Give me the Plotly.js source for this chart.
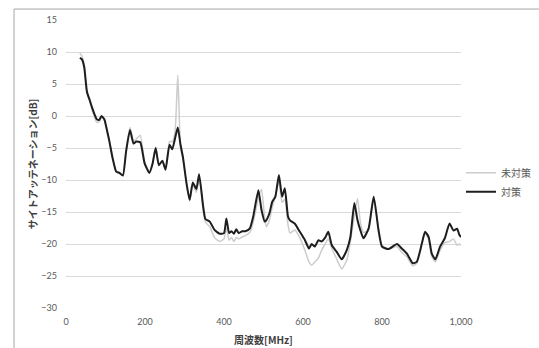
<!DOCTYPE html>
<html>
<head>
<meta charset="utf-8">
<script src="https://cdn.plot.ly/plotly-3.0.1.min.js"></script>
<style>
html,body{margin:0;padding:0;background:#fff;}
#chart{width:539px;height:348px;}
</style>
</head>
<body>
<div id="chart"></div>
<script>
// Frequency [MHz]
const freq = [35,40,46,53,60,65,72,78,84,90,97,104,110,118,127,135,144,152,162,171,178,188,199,211,219,227,235,244,252,262,269,276,283,290,296,305,313,321,330,337,347,353,364,376,389,400,406,413,419,425,431,437,446,454,465,474,487,495,503,507,515,522,530,539,547,554,562,567,579,592,605,615,622,630,639,647,656,664,673,685,698,711,720,730,738,745,753,766,779,791,800,816,838,850,863,878,888,901,909,918,926,935,947,959,971,981,990,996,1000];
// 対策 (with countermeasure)
const taisaku = [9.1,8.9,7.7,3.8,2.5,1.5,0.3,-0.5,-0.6,0.0,-0.5,-2.3,-4.0,-6.6,-8.7,-8.9,-9.3,-5.6,-2.2,-4.3,-4.0,-4.1,-7.4,-8.9,-7.5,-5.0,-7.7,-7.0,-8.4,-4.5,-5.2,-3.5,-1.8,-4.5,-6.4,-10.5,-13.1,-10.4,-11.4,-9.1,-14.0,-16.1,-16.5,-17.8,-18.4,-18.3,-16.0,-18.3,-18.0,-18.4,-17.7,-18.3,-18.0,-18.0,-17.6,-15.7,-11.6,-14.7,-16.5,-16.3,-15.2,-13.4,-12.6,-9.2,-12.6,-11.3,-15.7,-16.3,-16.8,-18.1,-19.4,-20.7,-20.0,-20.4,-19.4,-19.6,-19.0,-18.1,-20.2,-21.2,-22.4,-20.9,-18.9,-13.6,-16.3,-17.8,-19.1,-17.6,-12.6,-17.8,-20.4,-20.8,-20.0,-20.7,-21.5,-23.0,-22.8,-19.9,-18.1,-18.9,-21.5,-22.4,-20.4,-19.1,-16.8,-17.9,-17.6,-18.6,-18.9];
// 未対策 (without countermeasure)
const mitaisaku = [9.8,9.4,8.0,3.5,2.3,1.2,-0.2,-1.0,-0.9,-0.2,-0.6,-2.3,-4.0,-6.4,-8.6,-8.8,-9.2,-5.3,-1.8,-3.9,-3.6,-3.0,-7.2,-8.7,-7.3,-4.9,-7.5,-7.0,-8.3,-4.0,-4.0,-2.5,6.4,-5.0,-6.8,-10.5,-13.3,-10.8,-11.9,-9.6,-14.6,-16.6,-17.3,-19.0,-19.6,-19.2,-17.5,-19.4,-19.0,-19.6,-19.0,-19.2,-18.9,-18.7,-18.2,-16.6,-12.8,-11.5,-16.0,-17.3,-16.3,-14.3,-12.6,-10.2,-13.5,-13.0,-17.0,-18.3,-17.8,-19.0,-21.0,-22.8,-23.3,-22.8,-22.2,-21.0,-20.0,-19.2,-20.7,-22.3,-23.9,-22.5,-19.6,-15.5,-12.9,-16.5,-18.2,-17.8,-12.6,-17.5,-20.2,-20.8,-20.4,-21.3,-22.0,-23.4,-23.0,-20.0,-18.3,-19.3,-22.0,-22.8,-21.0,-19.8,-19.6,-19.2,-20.2,-20.0,-20.2];
const seriesNames = ['未対策','対策'];
const yTicks = [-30,-25,-20,-15,-10,-5,0,5,10,15];
const xTicks = [0,200,400,600,800,1000];

const font = "Lato, 'Noto Sans CJK JP', sans-serif";
const jp = "'Noto Sans CJK JP', sans-serif";

const traces = [
  {x: freq, y: mitaisaku, name: seriesNames[0], type: 'scatter', mode: 'lines',
   line: {color: '#cccccc', width: 1.5, shape: 'spline', smoothing: 0.5}},
  {x: freq, y: taisaku, name: seriesNames[1], type: 'scatter', mode: 'lines',
   line: {color: '#1e1e1e', width: 2, shape: 'spline', smoothing: 0.5}}
];

const layout = {
  width: 539, height: 348,
  margin: {l: 66, r: 78, t: 20, b: 40, autoexpand: false},
  paper_bgcolor: '#fff', plot_bgcolor: '#fff',
  font: {family: font, size: 9, color: '#595959'},
  showlegend: true,
  legend: {x: 1.0, xanchor: 'left', y: 0.52, yanchor: 'top',
    font: {family: jp, size: 10, color: '#595959'}, tracegroupgap: 0, bgcolor: 'rgba(0,0,0,0)'},
  xaxis: {range: [0, 1000], tickvals: xTicks, tickformat: ',d', showgrid: false,
    zeroline: false, showline: false, ticks: '', ticklabelstandoff: 7,
    tickfont: {family: font, size: 9, color: '#595959'},
    title: {text: '周波数[MHz]', font: {family: jp, size: 10, color: '#404040', weight: 'bold'}, standoff: 10}},
  yaxis: {range: [-30, 15], tickvals: yTicks, showgrid: true, gridcolor: '#d9d9d9', gridwidth: 1,
    zeroline: false, showline: false, ticks: '', ticklabelstandoff: 8,
    tickfont: {family: font, size: 9, color: '#595959'},
    title: {text: 'サイトアッテネーション[dB]', font: {family: jp, size: 10, color: '#404040', weight: 'bold'}, standoff: 1}},
  shapes: [
    {type: 'rect', xref: 'paper', yref: 'paper', x0: -0.1316, x1: 1.25, y0: -0.2, y1: 1.038,
     line: {color: '#a6a6a6', width: 1}, fillcolor: 'rgba(0,0,0,0)', layer: 'below'}
  ]
};

Plotly.newPlot('chart', traces, layout, {displayModeBar: false, staticPlot: true});
</script>
</body>
</html>
